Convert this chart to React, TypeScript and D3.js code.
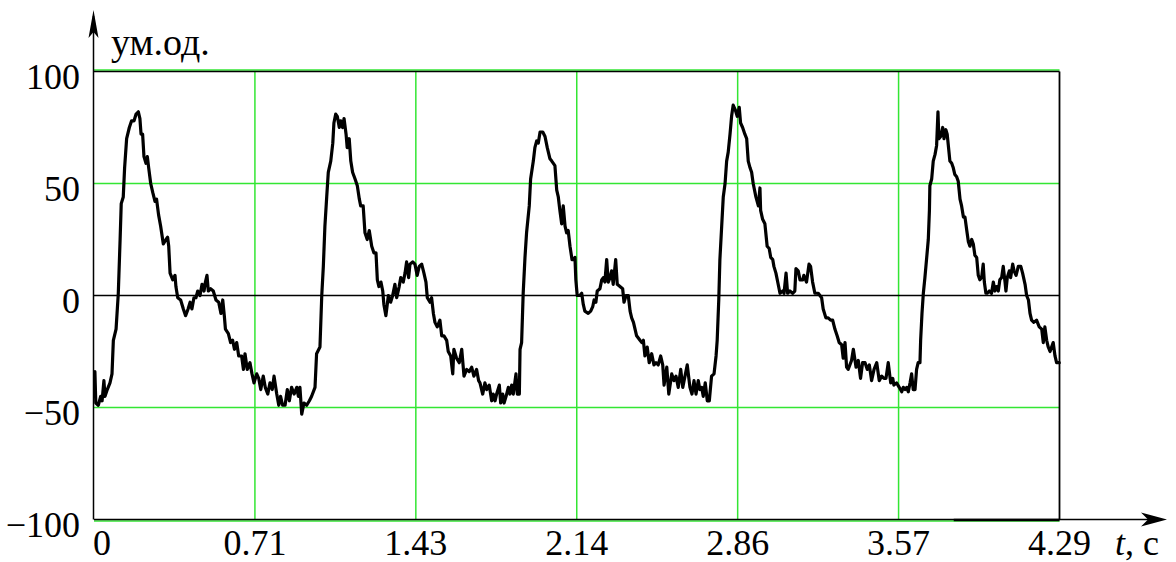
import React from 'react';
import * as d3 from 'd3';

// tick positions (s) and labels as printed on the chart
const xTicks = [0, 0.715, 1.43, 2.145, 2.86, 3.575, 4.29];
const xTickLabels = ['0', '0.71', '1.43', '2.14', '2.86', '3.57', '4.29'];
const yTicks = [-100, -50, 0, 50, 100];
const yTickLabels = ['\u2212100', '\u221250', '0', '50', '100'];

// signal: [t (s), value (ум.од.)]
const cycle1: [number, number][] = [
  [0.004, -34], [0.008, -48], [0.019, -49], [0.030, -45], [0.036, -47], [0.044, -38], [0.049, -45],
  [0.059, -42], [0.071, -39], [0.080, -35], [0.086, -20], [0.098, -15], [0.108, 1], [0.116, 25],
  [0.121, 41], [0.130, 44], [0.136, 57], [0.145, 70], [0.157, 75], [0.167, 78], [0.178, 78],
  [0.187, 81], [0.197, 82], [0.204, 79], [0.209, 72], [0.216, 72], [0.222, 62], [0.231, 59],
  [0.237, 62], [0.243, 57], [0.252, 50], [0.261, 46], [0.271, 42], [0.278, 43], [0.287, 36],
  [0.296, 31], [0.308, 23], [0.320, 25], [0.327, 26], [0.332, 22], [0.338, 10], [0.350, 7],
  [0.360, 9], [0.364, 4], [0.372, -1], [0.385, -2], [0.397, -6], [0.407, -9], [0.418, -6],
  [0.427, -3], [0.435, -6], [0.444, -1], [0.453, -1], [0.461, 2], [0.471, 0], [0.480, 5],
  [0.489, 2], [0.495, 6], [0.502, 9], [0.508, 2], [0.518, 3], [0.530, 2], [0.542, -2],
  [0.554, -3], [0.564, -8], [0.572, -2], [0.579, -9], [0.584, -15], [0.597, -17], [0.607, -21],
  [0.616, -20], [0.624, -24], [0.634, -21], [0.643, -27], [0.656, -27], [0.664, -33], [0.671, -26],
  [0.681, -33], [0.693, -30], [0.702, -35], [0.711, -39], [0.723, -35], [0.732, -37], [0.741, -42],
  [0.752, -36], [0.761, -41], [0.772, -44], [0.782, -39], [0.792, -42], [0.800, -36], [0.812, -44],
  [0.821, -49], [0.829, -45], [0.838, -49],
];

const cycle2: [number, number][] = [
  [0.849, -49], [0.859, -42], [0.868, -47], [0.878, -41], [0.889, -44], [0.901, -41], [0.908, -45],
  [0.915, -41], [0.923, -53], [0.933, -48], [0.945, -49], [0.957, -47], [0.967, -45], [0.982, -41],
  [0.989, -26], [1.004, -23], [1.012, 0], [1.019, 13], [1.026, 31], [1.034, 44], [1.041, 55],
  [1.052, 60], [1.061, 68], [1.066, 77], [1.074, 81], [1.081, 80], [1.090, 75], [1.096, 78],
  [1.105, 75], [1.111, 79], [1.120, 72], [1.125, 66], [1.134, 70], [1.141, 60], [1.149, 55],
  [1.160, 52], [1.170, 49], [1.179, 43], [1.185, 40], [1.196, 40], [1.204, 28], [1.214, 25],
  [1.223, 29], [1.234, 22], [1.244, 19], [1.253, 19], [1.259, 7], [1.266, 4], [1.275, 6],
  [1.283, 2], [1.288, -4], [1.297, -9], [1.308, 0], [1.318, -3], [1.327, 0], [1.337, 5],
  [1.345, -1], [1.356, 4], [1.363, 8], [1.374, 6], [1.382, 10], [1.389, 15], [1.398, 8],
  [1.404, 14], [1.416, 15], [1.426, 14], [1.436, 9], [1.445, 13], [1.456, 14], [1.466, 10],
  [1.475, 6], [1.481, -1], [1.493, -3], [1.500, -1], [1.508, -8], [1.515, -12], [1.525, -14],
  [1.537, -11], [1.545, -18], [1.555, -18], [1.567, -20], [1.574, -25], [1.585, -27], [1.594, -35],
  [1.599, -24], [1.611, -28], [1.623, -30], [1.634, -24], [1.644, -36], [1.656, -33], [1.667, -34],
  [1.678, -32], [1.688, -36], [1.700, -33], [1.709, -38],
];

const cycle3: [number, number][] = [
  [1.715, -39], [1.727, -44], [1.737, -39], [1.745, -42], [1.756, -40], [1.767, -47], [1.774, -44],
  [1.782, -47], [1.789, -44], [1.801, -40], [1.807, -48], [1.816, -44], [1.822, -48], [1.831, -45],
  [1.841, -41], [1.848, -44], [1.856, -40], [1.863, -44], [1.875, -35], [1.881, -44], [1.890, -44],
  [1.893, -24], [1.900, -21], [1.907, 1], [1.915, 17], [1.922, 28], [1.934, 40], [1.940, 52],
  [1.952, 60], [1.959, 66], [1.967, 69], [1.974, 68], [1.982, 73], [1.994, 73], [2.004, 71],
  [2.014, 66], [2.026, 61], [2.034, 60], [2.041, 59], [2.048, 58], [2.056, 47], [2.063, 44],
  [2.070, 38], [2.078, 32], [2.085, 40], [2.093, 31], [2.100, 28], [2.107, 29], [2.115, 22],
  [2.124, 16], [2.130, 16], [2.137, 17], [2.141, 7], [2.147, 0], [2.159, 0], [2.167, 1],
  [2.174, -4], [2.181, -7], [2.196, -8], [2.207, -7], [2.216, -5], [2.222, -2], [2.230, -3],
  [2.236, 2], [2.248, 3], [2.256, 7], [2.263, 8], [2.270, 6], [2.278, 16], [2.285, 6],
  [2.293, 8], [2.300, 11], [2.307, 5], [2.318, 16], [2.325, 5], [2.337, 4], [2.349, 3],
  [2.355, -3], [2.364, 0], [2.374, 0], [2.382, -7], [2.389, -10], [2.397, -12], [2.404, -15],
  [2.411, -18], [2.426, -20], [2.434, -21], [2.441, -20], [2.448, -27], [2.458, -23], [2.467, -30],
  [2.478, -26], [2.488, -31], [2.497, -30], [2.507, -31], [2.518, -27], [2.527, -31], [2.533, -40],
  [2.545, -32], [2.554, -44],
];

const cycle4: [number, number][] = [
  [2.567, -35], [2.577, -38], [2.586, -36], [2.596, -41], [2.607, -33], [2.616, -41], [2.626, -36],
  [2.636, -31], [2.648, -41], [2.657, -44], [2.666, -38], [2.675, -44], [2.685, -38], [2.692, -42],
  [2.700, -41], [2.707, -45], [2.716, -39], [2.725, -47], [2.734, -47], [2.744, -36], [2.755, -35],
  [2.764, -27], [2.769, -20], [2.776, -2], [2.781, 16], [2.789, 31], [2.796, 44], [2.804, 50],
  [2.811, 60], [2.818, 64], [2.826, 72], [2.833, 80], [2.840, 85], [2.849, 83], [2.858, 80],
  [2.867, 84], [2.873, 77], [2.882, 75], [2.892, 72], [2.900, 70], [2.907, 60], [2.915, 57],
  [2.922, 55], [2.929, 50], [2.941, 44], [2.952, 40], [2.959, 48], [2.962, 38], [2.971, 34],
  [2.981, 32], [2.991, 22], [3.000, 21], [3.007, 17], [3.016, 16], [3.021, 13], [3.030, 10],
  [3.040, 5], [3.048, 1], [3.060, 2], [3.066, 1], [3.075, 10], [3.082, 1], [3.092, 2],
  [3.104, 1], [3.114, 2], [3.119, 12], [3.129, 11], [3.137, 7], [3.149, 7], [3.154, 9],
  [3.166, 6], [3.177, 14], [3.184, 13], [3.193, 6], [3.203, 1], [3.218, 1], [3.233, -1],
  [3.240, -6], [3.252, -10], [3.262, -10], [3.273, -11], [3.282, -11], [3.292, -15], [3.302, -18],
  [3.311, -21], [3.322, -22], [3.329, -28], [3.337, -21], [3.344, -32], [3.351, -33], [3.366, -29],
  [3.374, -24],
];

const cycle5: [number, number][] = [
  [3.386, -32], [3.396, -29], [3.406, -37], [3.415, -30], [3.426, -30], [3.436, -33], [3.445, -31],
  [3.455, -38], [3.466, -33], [3.478, -30], [3.489, -38], [3.500, -36], [3.510, -37], [3.519, -37],
  [3.529, -30], [3.540, -39], [3.549, -37], [3.554, -40], [3.566, -39], [3.578, -41], [3.589, -43],
  [3.596, -41], [3.604, -42], [3.611, -41], [3.618, -43], [3.626, -39], [3.633, -35], [3.640, -42],
  [3.648, -42], [3.655, -33], [3.662, -30], [3.670, -30], [3.673, -20], [3.679, -8], [3.685, 1],
  [3.692, 8], [3.700, 17], [3.707, 25], [3.712, 38], [3.714, 49], [3.722, 52], [3.729, 60],
  [3.737, 63], [3.744, 67], [3.750, 82], [3.754, 70], [3.762, 71], [3.771, 75], [3.777, 70],
  [3.785, 74], [3.791, 72], [3.797, 66], [3.803, 60], [3.811, 59], [3.818, 57], [3.825, 54],
  [3.833, 53], [3.840, 51], [3.848, 43], [3.855, 40], [3.863, 35], [3.870, 35], [3.878, 29],
  [3.885, 24], [3.892, 22], [3.900, 25], [3.907, 23], [3.914, 18], [3.922, 17], [3.929, 9],
  [3.936, 7], [3.944, 8], [3.951, 14], [3.956, 6], [3.963, 1], [3.969, 1], [3.978, 2],
  [3.988, 1], [3.996, 6], [4.003, 2], [4.011, 4], [4.018, 2], [4.025, 7], [4.033, 8],
  [4.040, 13], [4.048, 6], [4.052, 2], [4.058, 8], [4.067, 11], [4.073, 8], [4.082, 14],
  [4.088, 11], [4.097, 9], [4.107, 13], [4.118, 13], [4.126, 10], [4.137, 5], [4.144, 0],
  [4.152, -2], [4.159, -8], [4.166, -11], [4.176, -12], [4.188, -11], [4.200, -14], [4.211, -15],
  [4.218, -21], [4.225, -14], [4.233, -20], [4.240, -23], [4.248, -25], [4.255, -23], [4.262, -21],
  [4.270, -27], [4.277, -30], [4.289, -30],
];

const signal = [...cycle1, ...cycle2, ...cycle3, ...cycle4, ...cycle5];

const W = 1176;
const H = 562;
const FONT = '"Liberation Serif", "Times New Roman", serif';
const GREEN = '#33e633';

export default function App() {
  const x = d3.scaleLinear().domain([0, 4.29]).range([94, 1059.5]);
  const y = d3.scaleLinear().domain([-100, 100]).range([519.5, 71.5]);

  const line = d3
    .line<[number, number]>()
    .x((d) => x(d[0]))
    .y((d) => y(d[1]));

  const x0 = x(0);
  const x1 = x(4.29);
  const yTop = y(100);
  const yBot = y(-100);
  const axisTipX = 1167;
  const axisTipY = 10;

  return (
    <svg
      width={W}
      height={H}
      style={{ position: 'absolute', left: 0, top: 0, background: '#fff' }}
      fontFamily={FONT}
    >
      {/* green grid */}
      {xTicks.slice(1, -1).map((t) => (
        <line key={'gx' + t} x1={x(t)} x2={x(t)} y1={yTop} y2={yBot} stroke={GREEN} strokeWidth={1.5} />
      ))}
      {yTicks.filter((v) => v !== 0).map((v) => {
        const off = v === 100 ? -1.5 : v === -100 ? 1.5 : 0;
        return (
          <line key={'gy' + v} x1={x0} x2={x1} y1={y(v) + off} y2={y(v) + off} stroke={GREEN} strokeWidth={1.5} />
        );
      })}

      {/* frame and zero line */}
      <line x1={x0} x2={x1} y1={yTop} y2={yTop} stroke="#000" strokeWidth={1.5} />
      <line x1={x1} x2={x1} y1={yTop} y2={yBot} stroke="#000" strokeWidth={1.8} />
      <line x1={x0} x2={x1} y1={y(0)} y2={y(0)} stroke="#000" strokeWidth={1.5} />

      {/* x axis with arrow */}
      <line x1={x0} x2={axisTipX - 6} y1={yBot} y2={yBot} stroke="#000" strokeWidth={1.5} />
      <line x1={x(3.82)} x2={x1} y1={yBot + 0.5} y2={yBot + 0.5} stroke="#000" strokeWidth={2.5} />
      <path
        d={`M${axisTipX},${yBot} L${axisTipX - 26},${yBot - 7} L${axisTipX - 19},${yBot} L${axisTipX - 26},${yBot + 7} Z`}
        fill="#000"
      />

      {/* y axis with arrow */}
      <line x1={x0 - 0.5} x2={x0 - 0.5} y1={yBot} y2={axisTipY + 6} stroke="#000" strokeWidth={1.5} />
      <path
        d={`M${x0 - 0.5},${axisTipY} L${x0 - 5.5},${axisTipY + 28} L${x0 - 0.5},${axisTipY + 22} L${x0 + 4.5},${axisTipY + 28} Z`}
        fill="#000"
      />

      {/* signal */}
      <path
        d={line(signal) ?? ''}
        fill="none"
        stroke="#000"
        strokeWidth={3.2}
        strokeLinejoin="round"
        strokeLinecap="round"
      />

      {/* y tick labels */}
      {yTicks.map((v, i) => (
        <text key={'yl' + v} x={80} y={y(v) + 17} textAnchor="end" fontSize={36} fill="#000">
          {yTickLabels[i]}
        </text>
      ))}

      {/* x tick labels */}
      {xTicks.map((t, i) => (
        <text
          key={'xl' + t}
          x={i === 0 ? x(t) - 1 : x(t)}
          y={555}
          textAnchor={i === 0 ? 'start' : 'middle'}
          fontSize={36}
          fill="#000"
        >
          {xTickLabels[i]}
        </text>
      ))}

      {/* axis titles */}
      <text x={111} y={55} fontSize={38} fill="#000">ум.од.</text>
      <text x={1115} y={555} fontSize={36} fill="#000">
        <tspan fontStyle="italic">t</tspan>, c
      </text>
    </svg>
  );
}
